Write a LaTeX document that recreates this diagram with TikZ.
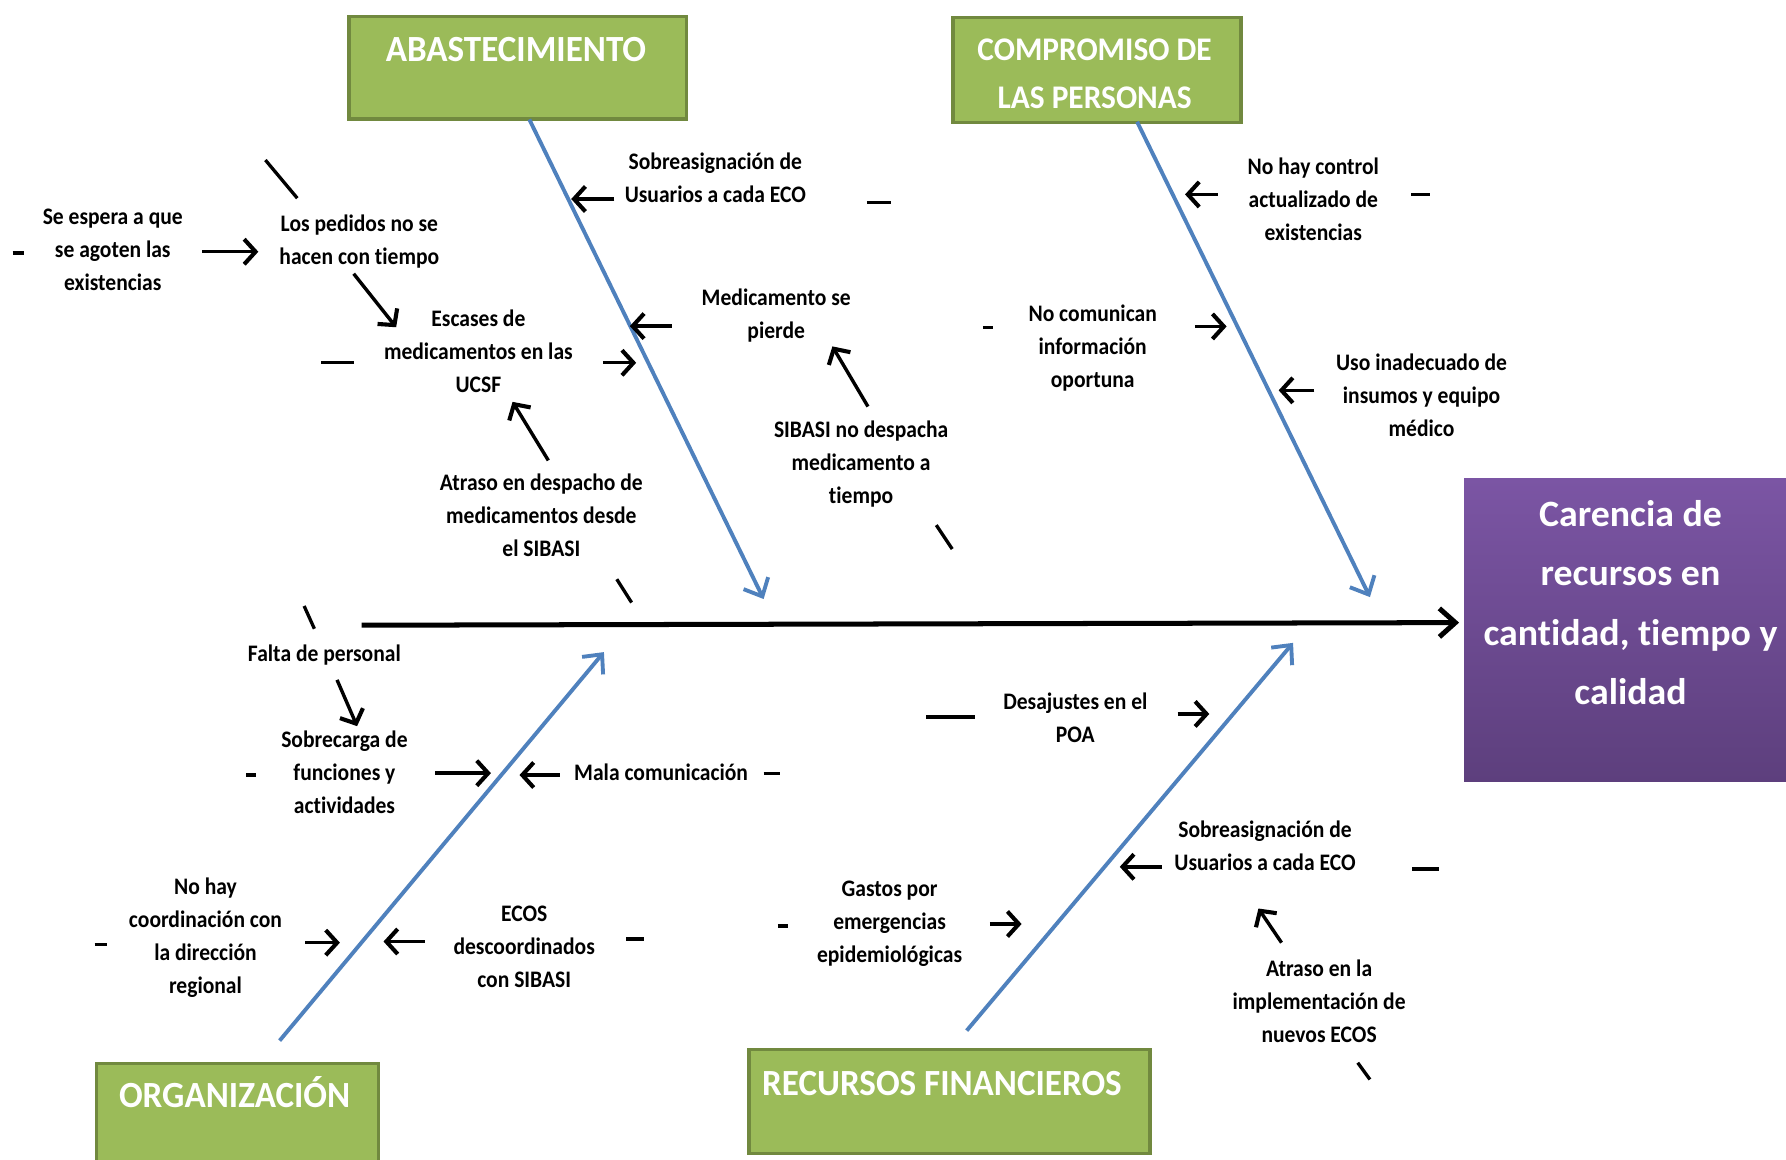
\documentclass[tikz,border=0pt]{standalone}
\usepackage{fontspec}
\usetikzlibrary{arrows.meta}

\newfontfamily\causefont[FakeStretch=0.91, Ligatures=NoCommon]{Carlito}
\newfontfamily\catfont[FakeStretch=0.95, Ligatures=NoCommon]{Carlito}
\newfontfamily\effectfont[FakeStretch=1.02, Ligatures=NoCommon]{Carlito}

\definecolor{catfill}{HTML}{9BBB59}
\definecolor{catedge}{HTML}{71893F}
\definecolor{boneblue}{HTML}{4F81BD}
\definecolor{effecttop}{HTML}{7B55A4}
\definecolor{effectbottom}{HTML}{5D3F7D}

% multi-line nodes are placed by the baseline of their last line
\tikzset{
  cause/.style={font=\causefont\bfseries\fontsize{10.4}{14.5}\selectfont,
    align=center, anchor=base, inner sep=0pt},
  catbox/.style={draw=catedge, line width=1.5pt, fill=catfill,
    anchor=north west, inner sep=0pt},
  cattext/.style={font=\catfont\bfseries\fontsize{16.2}{21}\selectfont,
    text=white, align=center, anchor=base, inner sep=0pt},
  effectbox/.style={top color=effecttop, bottom color=effectbottom,
    anchor=north west, inner sep=0pt},
  effecttext/.style={font=\effectfont\bfseries\fontsize{16.3}{26.15}\selectfont,
    text=white, align=center, anchor=base, inner sep=0pt},
  tick/.style={line width=1.45pt},
  link/.style={line width=1.5pt, line join=round,
    -{Straight Barb[length=5pt,width=11pt,line width=1.8pt]}},
  bone/.style={draw=boneblue, line width=1.7pt, -{Straight Barb[length=6.5pt,width=12pt]}},
  spine/.style={line width=2.2pt, -{Straight Barb[length=7pt,width=12.5pt]}},
}

\begin{document}
\begin{tikzpicture}[x=0.5pt, y=-0.5pt]
\useasboundingbox (0,0) rectangle (1568,1018);
\fill[white] (0,0) rectangle (1568,1018);

% category boxes
\node[catbox, minimum width=148pt, minimum height=45pt] (abast) at (305,13) {};
\node[catbox, minimum width=126.5pt, minimum height=46pt] (comp) at (835,14) {};
\node[catbox, minimum width=124pt, minimum height=52pt] (org) at (83,932) {};
\node[catbox, minimum width=176pt, minimum height=45.5pt] (fin) at (656,920) {};
\node[cattext] (abast-t) at (453,54.4) {ABASTECIMIENTO};
\node[cattext, font=\catfont\bfseries\fontsize{14.5}{21}\selectfont]
  (comp-t) at (961,95) {COMPROMISO DE\\LAS PERSONAS};
\node[cattext] (org-t) at (206,972) {ORGANIZACIÓN};
\node[cattext] (fin-t) at (827,962) {RECURSOS FINANCIEROS};

% effect box
\node[effectbox, minimum width=160pt, minimum height=133pt] (effect) at (1285,420) {};
\node[effecttext] (effect-t) at (1431.5,618.7)
  {Carencia de\\recursos en\\cantidad, tiempo y\\calidad};

% spine and main bones
\coordinate (spine-tail) at (317.5,548.9);
\coordinate (spine-head) at (1281,546.6);
\draw[spine] (spine-tail) -- (spine-head);

\coordinate (abast-from) at (464.7,104.8);
\coordinate (abast-to) at (670.4,525.9);
\coordinate (comp-from) at (998.3,106.9);
\coordinate (comp-to) at (1202.7,524.2);
\coordinate (org-from) at (245.5,913.6);
\coordinate (org-to) at (530.2,572.5);
\coordinate (fin-from) at (848.7,904.8);
\coordinate (fin-to) at (1135.2,564.4);
\foreach \b in {abast,comp,org,fin}
  \draw[bone] (\b-from) -- (\b-to);

% causes
\node[cause] (s1) at (628,178) {Sobreasignación de\\Usuarios a cada ECO};
\node[cause] (s2) at (99,255) {Se espera a que\\se agoten las\\existencias};
\node[cause] (s3) at (315.5,232.6) {Los pedidos no se\\hacen con tiempo};
\node[cause] (s4) at (420,344.6) {Escases de\\medicamentos en las\\UCSF};
\node[cause] (s5) at (681.5,297.4) {Medicamento se\\pierde};
\node[cause] (s6) at (756,442) {SIBASI no despacha\\medicamento a\\tiempo};
\node[cause] (s7) at (475.3,489) {Atraso en despacho de\\medicamentos desde\\el SIBASI};
\node[cause] (c1) at (1153,211.2) {No hay control\\actualizado de\\existencias};
\node[cause] (c2) at (959.3,340.5) {No comunican\\información\\oportuna};
\node[cause] (c3) at (1248,383.5) {Uso inadecuado de\\insumos y equipo\\médico};
\node[cause] (o1) at (284.8,580.5) {Falta de personal};
\node[cause] (o2) at (302.4,714) {Sobrecarga de\\funciones y\\actividades};
\node[cause] (o3) at (580.4,685) {Mala comunicación};
\node[cause] (o4) at (180.4,872) {No hay\\coordinación con\\la dirección\\regional};
\node[cause] (o5) at (460.2,866.6) {ECOS\\descoordinados\\con SIBASI};
\node[cause] (f1) at (944.1,651.8) {Desajustes en el\\POA};
\node[cause] (f2) at (781,845) {Gastos por\\emergencias\\epidemiológicas};
\node[cause] (f3) at (1110.6,764.5) {Sobreasignación de\\Usuarios a cada ECO};
\node[cause] (f4) at (1158.1,915.3) {Atraso en la\\implementación de\\nuevos ECOS};

% short arrows between causes and bones
\foreach \n/\p/\q in {
  s1/{539.3,174.7}/{501.5,174.7},
  s2/{177.4,221}/{226.8,221},
  s3/{310.5,240.3}/{347.8,287.3},
  s4/{529.2,318.5}/{558.5,318.5},
  s5/{589.7,286.3}/{553,286.3},
  s6/{762,356.9}/{730.8,304.1},
  s7/{481.4,404.2}/{450,352.8},
  c1/{1069.3,170.7}/{1040.4,170.7},
  c2/{1049,286.6}/{1076.9,286.6},
  c3/{1154,342.7}/{1122.6,342.7},
  o1/{295.9,596.9}/{313.5,637.5},
  o2/{382,678.8}/{431,678.8},
  o3/{491.4,680.4}/{456.1,680.4},
  o4/{268.1,827.6}/{298.4,827.6},
  o5/{373,826.6}/{336.7,826.6},
  f1/{1033.8,626.8}/{1061.7,626.8},
  f2/{869,811.2}/{896.9,811.2},
  f3/{1020.1,761}/{983.1,761},
  f4/{1125.1,827.6}/{1104.8,797.6}}
{
  \coordinate (\n-out) at (\p);
  \coordinate (\n-in) at (\q);
  \draw[link] (\n-out) -- (\n-in);
}

% loose connector stubs
\foreach \p/\q in {
  {761,178}/{782,178}, {11,222}/{21,222}, {282,318.5}/{311,318.5},
  {1239,171}/{1255,171}, {863,287.3}/{871.5,287.3}, {216,680.4}/{225,680.4},
  {670.4,678.8}/{684.5,678.8}, {83,829}/{94,829}, {550,824.3}/{565.5,824.3},
  {813,629.4}/{856,629.4}, {683,812.9}/{692,812.9}, {1240,763}/{1263,763},
  {233,140.5}/{261,174}, {541.5,508.5}/{554.5,529}, {822,461}/{836,482},
  {267,532}/{276,552}, {1192,933}/{1202.7,947.7}}
  \draw[tick] (\p) -- (\q);

\end{tikzpicture}
\end{document}
